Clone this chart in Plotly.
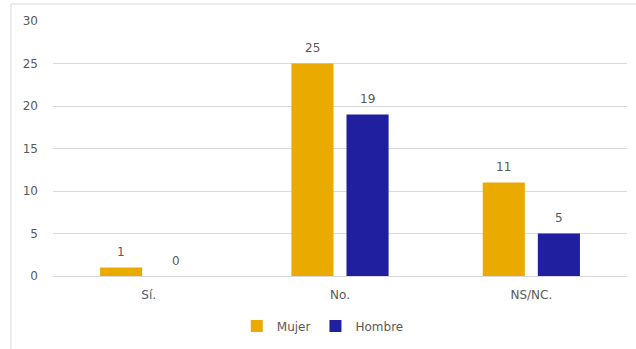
import plotly.graph_objects as go

categories = ["Sí.", "No.", "NS/NC."]
mujer = [1, 25, 11]
hombre = [0, 19, 5]
series_names = ["Mujer", "Hombre"]
series_colors = ["#EBAA00", "#1F1FA0"]
y_ticks = [0, 5, 10, 15, 20, 25, 30]

font_color = "#595959"
font_family = "'DejaVu Sans', sans-serif"

fig = go.Figure()
for name, vals, col in zip(series_names, [mujer, hombre], series_colors):
    fig.add_trace(go.Bar(name=name, x=categories, y=vals, marker_color=col,
                         marker_line=dict(width=0)))

# data labels placed above each bar (bars offset by half a slot from category centre)
slot_px = 55
for vals, shift in [(mujer, -slot_px / 2), (hombre, slot_px / 2)]:
    for c, v in zip(categories, vals):
        fig.add_annotation(x=c, y=v, text=str(v), showarrow=False, xshift=shift,
                           yshift=15.5, yanchor="middle",
                           font=dict(size=12, color=font_color, family=font_family))

fig.update_layout(
    width=636, height=349,
    margin=dict(l=53, r=9, t=21, b=73),
    paper_bgcolor="white", plot_bgcolor="white",
    barmode="group", bargap=0.424, bargroupgap=0.236,
    font=dict(family=font_family, size=12, color=font_color),
    showlegend=True,
    legend=dict(orientation="h", x=0.47, xanchor="center", y=-0.196, yanchor="middle",
                font=dict(size=12, color=font_color), itemwidth=30, traceorder="normal"),
    xaxis=dict(showgrid=False, showline=False, ticks="", ticklabelstandoff=10,
               tickfont=dict(size=12, color=font_color)),
    yaxis=dict(range=[0, 30], tickvals=y_ticks, showgrid=True, gridcolor="#D9D9D9", gridwidth=1,
               zeroline=True, zerolinecolor="#D9D9D9", zerolinewidth=1, showline=False,
               ticklabelstandoff=14, tickfont=dict(size=12, color=font_color)),
    shapes=[
        dict(type="line", xref="paper", yref="paper", x0=-42/574, x1=1.1, y0=(276-4)/255, y1=(276-4)/255,
             line=dict(color="#D9D9D9", width=1)),
        dict(type="line", xref="paper", yref="paper", x0=-42/574, x1=-42/574, y0=(276-4)/255, y1=-0.4,
             line=dict(color="#D9D9D9", width=1)),
    ],
)

fig.write_html("out.html", config={"displayModeBar": False},
               post_script="document.body.style.margin='0px';")
